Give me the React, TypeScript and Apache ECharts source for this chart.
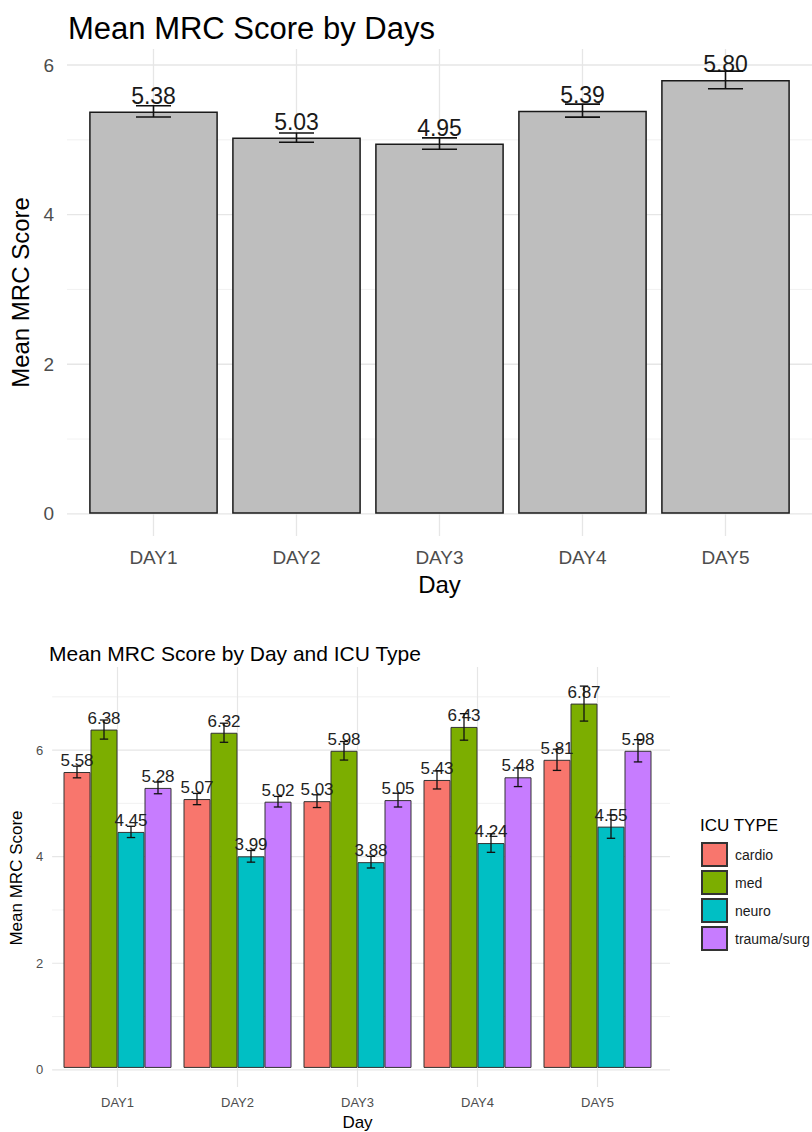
import React, { useEffect, useRef } from "react";
import * as echarts from "echarts";

// ---------- data ----------
const days = ["DAY1", "DAY2", "DAY3", "DAY4", "DAY5"];
const dayMeans = [5.38, 5.03, 4.95, 5.39, 5.8];
const dayErrors = [0.076, 0.062, 0.076, 0.087, 0.118];

const icuTypes = ["cardio", "med", "neuro", "trauma/surg"];
const cardioMeans = [5.58, 5.07, 5.03, 5.43, 5.81];
const medMeans = [6.38, 6.32, 5.98, 6.43, 6.87];
const neuroMeans = [4.45, 3.99, 3.88, 4.24, 4.55];
const traumaMeans = [5.28, 5.02, 5.05, 5.48, 5.98];
const cardioErrors = [0.11, 0.106, 0.12, 0.17, 0.2];
const medErrors = [0.18, 0.18, 0.175, 0.25, 0.33];
const neuroErrors = [0.106, 0.11, 0.11, 0.175, 0.22];
const traumaErrors = [0.11, 0.1, 0.13, 0.175, 0.21];

const topMajorTicks = [0, 2, 4, 6];
const topMinorTicks = [1, 3, 5];
const bottomMajorTicks = [0, 2, 4, 6];
const bottomMinorTicks = [1, 3, 5, 7];

const icuColors = ["#F8766D", "#7CAE00", "#00BFC4", "#C77CFF"];

const FONT = "'Liberation Sans', Arial, Helvetica, sans-serif";

function expandRange(means: number[][], errors: number[][]) {
  let mx = 0;
  means.forEach((arr, k) =>
    arr.forEach((m, i) => {
      mx = Math.max(mx, m + errors[k][i]);
    })
  );
  const pad = mx * 0.05;
  return [-pad, mx + pad];
}

const hLine = (color: string, width: number) => (params: any, api: any) => {
  const y = api.coord([0, api.value(1)])[1];
  const cs = params.coordSys;
  return {
    type: "line",
    silent: true,
    shape: { x1: cs.x, y1: y, x2: cs.x + cs.width, y2: y },
    style: { stroke: color, lineWidth: width },
  };
};

const vLine = (color: string, width: number) => (params: any, api: any) => {
  const x = api.coord([api.value(0), 0])[0];
  const cs = params.coordSys;
  return {
    type: "line",
    silent: true,
    shape: { x1: x, y1: cs.y, x2: x, y2: cs.y + cs.height },
    style: { stroke: color, lineWidth: width },
  };
};

const errorBar =
  (k: number, n: number, whisker: number, lw: number) =>
  (params: any, api: any) => {
    const i = api.value(0);
    const pLo = api.coord([i, api.value(1)]);
    const pHi = api.coord([i, api.value(2)]);
    const bw = api.size([1, 0])[0];
    const barW = (bw * 0.9) / n;
    const x = pLo[0] + (n > 1 ? (k - (n - 1) / 2) * barW : 0);
    const half = (bw * whisker) / 2;
    const st = { stroke: "#111", lineWidth: lw };
    return {
      type: "group",
      children: [
        { type: "line", shape: { x1: x, y1: pHi[1], x2: x, y2: pLo[1] }, style: st },
        { type: "line", shape: { x1: x - half, y1: pHi[1], x2: x + half, y2: pHi[1] }, style: st },
        { type: "line", shape: { x1: x - half, y1: pLo[1], x2: x + half, y2: pLo[1] }, style: st },
      ],
    };
  };

export default function App() {
  const ref = useRef<HTMLDivElement>(null);

  useEffect(() => {
    if (!ref.current) return;
    const chart = echarts.init(ref.current, null, { renderer: "svg" });

    const topRange = expandRange([dayMeans], [dayErrors]);
    const icuMeans = [cardioMeans, medMeans, neuroMeans, traumaMeans];
    const icuErrors = [cardioErrors, medErrors, neuroErrors, traumaErrors];
    const botRange = expandRange(icuMeans, icuErrors);

    const majorColor = "#e6e6e6";
    const minorColor = "#eeeeee";

    const series: any[] = [
      // top chart gridlines
      {
        type: "custom", xAxisIndex: 0, yAxisIndex: 0, z: 0, silent: true,
        data: topMinorTicks.map((v) => [0, v]), encode: { x: 0, y: 1 },
        renderItem: hLine(minorColor, 0.8),
      },
      {
        type: "custom", xAxisIndex: 0, yAxisIndex: 0, z: 0, silent: true,
        data: topMajorTicks.map((v) => [0, v]), encode: { x: 0, y: 1 },
        renderItem: hLine(majorColor, 1.3),
      },
      {
        type: "custom", xAxisIndex: 1, yAxisIndex: 1, z: 0, silent: true,
        data: days.map((d, i) => [i, 0]), encode: { x: 0, y: 1 },
        renderItem: vLine(majorColor, 1.3),
      },
      {
        type: "bar", name: "Mean", xAxisIndex: 1, yAxisIndex: 1, z: 2,
        data: dayMeans, barWidth: "90%",
        itemStyle: { color: "#BEBEBE", borderColor: "#1a1a1a", borderWidth: 1.5 },
        label: {
          show: true, position: "top", distance: 4, fontSize: 23, color: "#1a1a1a",
          fontFamily: FONT,
          formatter: (p: any) => Number(p.value).toFixed(2),
        },
      },
      {
        type: "custom", xAxisIndex: 1, yAxisIndex: 1, z: 3, silent: true,
        data: dayMeans.map((m, i) => [i, m - dayErrors[i], m + dayErrors[i]]),
        encode: { x: 0, y: [1, 2] },
        renderItem: errorBar(0, 1, 0.245, 1.6),
      },
      // bottom chart gridlines
      {
        type: "custom", xAxisIndex: 2, yAxisIndex: 2, z: 0, silent: true,
        data: bottomMinorTicks.map((v) => [0, v]), encode: { x: 0, y: 1 },
        renderItem: hLine(minorColor, 0.8),
      },
      {
        type: "custom", xAxisIndex: 2, yAxisIndex: 2, z: 0, silent: true,
        data: bottomMajorTicks.map((v) => [0, v]), encode: { x: 0, y: 1 },
        renderItem: hLine(majorColor, 1.2),
      },
      {
        type: "custom", xAxisIndex: 3, yAxisIndex: 3, z: 0, silent: true,
        data: days.map((d, i) => [i, 0]), encode: { x: 0, y: 1 },
        renderItem: vLine(majorColor, 1.2),
      },
    ];

    icuTypes.forEach((name, k) => {
      series.push({
        type: "bar", name, xAxisIndex: 3, yAxisIndex: 3, z: 2,
        data: icuMeans[k], barGap: "0%", barCategoryGap: "10%",
        itemStyle: { color: icuColors[k], borderColor: "#333", borderWidth: 1 },
        label: {
          show: true, position: "top", distance: 3, fontSize: 17, color: "#222",
          fontFamily: FONT,
          formatter: (p: any) => Number(p.value).toFixed(2),
        },
      });
    });
    icuTypes.forEach((name, k) => {
      series.push({
        type: "custom", xAxisIndex: 3, yAxisIndex: 3, z: 3, silent: true,
        data: icuMeans[k].map((m, i) => [i, m - icuErrors[k][i], m + icuErrors[k][i]]),
        encode: { x: 0, y: [1, 2] },
        renderItem: errorBar(k, 4, 0.07, 1.3),
      });
    });

    const hiddenValueX = { type: "value", min: 0, max: 1, show: false };
    const tickLabel = (size: number, margin: number) => ({
      fontSize: size, color: "#4d4d4d", margin, fontFamily: FONT,
    });

    chart.setOption({
      animation: false,
      textStyle: { fontFamily: FONT },
      title: [
        {
          text: "Mean MRC Score by Days", left: 63, top: 8,
          textStyle: { fontSize: 31, fontWeight: "normal", color: "#000", fontFamily: FONT },
        },
        {
          text: "Mean MRC Score by Day and ICU Type", left: 44, top: 638,
          textStyle: { fontSize: 21, fontWeight: "normal", color: "#000", fontFamily: FONT },
        },
        {
          text: "ICU TYPE", left: 695, top: 812,
          textStyle: { fontSize: 17, fontWeight: "normal", color: "#000", fontFamily: FONT },
        },
      ],
      legend: {
        data: icuTypes, orient: "vertical", left: 696, top: 837,
        itemWidth: 25, itemHeight: 23, itemGap: 3, icon: "rect",
        selectedMode: false,
        textStyle: { fontSize: 14, color: "#1a1a1a", fontFamily: FONT, padding: [0, 0, 0, 3], lineHeight: 16 },
      },
      grid: [
        { left: 67, width: 745, top: 49, height: 487 },
        { left: 82, width: 715, top: 49, height: 487 },
        { left: 45, width: 625, top: 667, height: 422 },
        { left: 57.5, width: 600, top: 667, height: 422 },
      ],
      xAxis: [
        { ...hiddenValueX, gridIndex: 0 },
        {
          type: "category", gridIndex: 1, data: days,
          axisLine: { show: false, onZero: false }, axisTick: { show: false },
          splitLine: { show: false },
          axisLabel: tickLabel(19, 12),
          name: "Day", nameLocation: "middle", nameGap: 36,
          nameTextStyle: { fontSize: 24, color: "#000", fontFamily: FONT },
        },
        { ...hiddenValueX, gridIndex: 2 },
        {
          type: "category", gridIndex: 3, data: days,
          axisLine: { show: false, onZero: false }, axisTick: { show: false },
          splitLine: { show: false },
          axisLabel: tickLabel(13, 9),
          name: "Day", nameLocation: "middle", nameGap: 27,
          nameTextStyle: { fontSize: 17, color: "#000", fontFamily: FONT },
        },
      ],
      yAxis: [
        {
          type: "value", gridIndex: 0, min: topRange[0], max: topRange[1],
          axisLine: { show: false }, axisTick: { show: false }, splitLine: { show: false },
          axisLabel: { ...tickLabel(19, 13), customValues: topMajorTicks },
          name: "Mean MRC Score", nameLocation: "middle", nameGap: 26,
          nameTextStyle: { fontSize: 24, color: "#000", fontFamily: FONT },
        },
        {
          type: "value", gridIndex: 1, min: topRange[0], max: topRange[1], show: false,
        },
        {
          type: "value", gridIndex: 2, min: botRange[0], max: botRange[1],
          axisLine: { show: false }, axisTick: { show: false }, splitLine: { show: false },
          axisLabel: { ...tickLabel(13, 9), customValues: bottomMajorTicks },
          name: "Mean MRC Score", nameLocation: "middle", nameGap: 20,
          nameTextStyle: { fontSize: 17, color: "#000", fontFamily: FONT },
        },
        {
          type: "value", gridIndex: 3, min: botRange[0], max: botRange[1], show: false,
        },
      ],
      series,
    });

    return () => chart.dispose();
  }, []);

  return (
    <div
      ref={ref}
      style={{ position: "absolute", left: 0, top: 0, width: 812, height: 1132, background: "#fff" }}
    />
  );
}
